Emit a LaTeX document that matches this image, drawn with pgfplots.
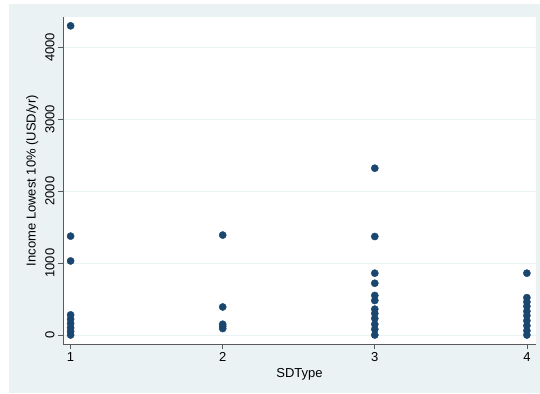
\documentclass[border=0pt]{standalone}
\usepackage{fontspec}
\setmainfont{Liberation Sans}
\usepackage{pgfplots}
\pgfplotsset{compat=1.18}
\definecolor{bgc}{HTML}{EAF2F3}
\definecolor{pts}{HTML}{1A476F}
\definecolor{grd}{HTML}{EAF2F3}
\definecolor{axc}{HTML}{5A5A5A}
\begin{document}
\begin{tikzpicture}[x=1pt,y=1pt]
\fill[white] (0,0) rectangle (540,393);
\fill[bgc] (9,0) rectangle (540,389);
\useasboundingbox (0,0) rectangle (540,393);
\begin{axis}[
  at={(63pt,49pt)}, anchor=south west,
  scale only axis, width=473pt, height=327pt,
  xmin=0.95, xmax=4.06, ymin=-125, ymax=4423,
  axis x line*=bottom, axis y line*=left,
  axis background/.style={fill=white},
  xtick={1,2,3,4}, ytick={0,1000,2000,3000,4000},
  ymajorgrids, grid style={grd, line width=0.8pt},
  tick align=outside, major tick length=5pt,
  tick style={axc, line width=0.7pt},
  axis line style={axc, line width=0.8pt},
  yticklabel style={rotate=90, anchor=south},
  /pgf/number format/assume math mode=true,
  /pgf/number format/1000 sep={},
  ticklabel style={font=\fontsize{13}{15}\selectfont},
  label style={font=\fontsize{13}{15}\selectfont},
  xlabel={SDType}, ylabel={Income Lowest 10\% (USD/yr)},
  clip=false,
]
\addplot[only marks, mark=*, mark size=3.6pt, mark options={fill=pts, draw=pts}] coordinates {
(1,4300) (1,1375) (1,1030) (1,280) (1,220) (1,160) (1,100) (1,50) (1,0)
(2,1390) (2,390) (2,150) (2,120) (2,90)
(3,2320) (3,1370) (3,860) (3,720) (3,550) (3,480) (3,360) (3,300) (3,230) (3,150) (3,80) (3,0)
(4,860) (4,520) (4,460) (4,400) (4,330) (4,270) (4,200) (4,130) (4,60) (4,0)
};
\end{axis}
\end{tikzpicture}
\end{document}
